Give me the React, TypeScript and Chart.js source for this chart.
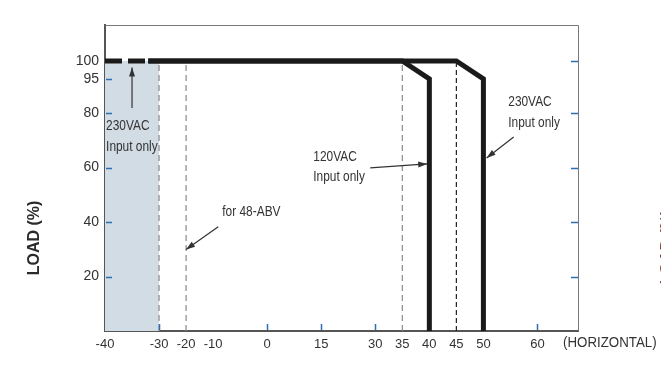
import React, { useEffect, useRef } from "react";
import { Chart, registerables } from "chart.js";

Chart.register(...registerables);

// Temperature axis is drawn with uneven spacing: each labelled temperature sits on its own slot.
const TICK_TEMPS = [-40, -30, -20, -10, 0, 15, 30, 35, 40, 45, 50, 60];
const TICK_SLOTS = [0, 2, 3, 4, 6, 8, 10, 11, 12, 13, 14, 16];
const AXIS_END_SLOT = 17.5;

// Load axis is also stretched above 80 %.
const LOAD_TICKS = [0, 20, 40, 60, 80, 95, 100];
const LOAD_SLOTS = [0, 20, 40, 60, 80, 92.5, 99.1];
const LOAD_END_SLOT = 112.3;
const LEFT_LABELS = [20, 40, 60, 80, 95, 100];
const RIGHT_LOAD_MARKS = [20, 40, 60, 80, 100];
const LEFT_LOAD_MARKS = [20, 40, 60, 80, 95];
const BOTTOM_MARK_TEMPS = [-30, 0, 15, 30, 60];

// Derating curves (temperature in °C, load in %)
const COLD_TEMPS = [-40, -32];
const COLD_LOAD = [100, 100];
const AC120_TEMPS = [-32, 35, 40, 40];
const AC120_LOAD = [100, 100, 95, 0];
const AC230_TEMPS = [-32, 45, 50, 50];
const AC230_LOAD = [100, 100, 95, 0];

// Shaded 230VAC-only band and dashed guide lines
const SHADE_TEMPS = [-40, -30];
const SHADE_LOAD = [100, 100];
const GREY_GUIDE_TEMPS = [-30, -20, 35];
const BLACK_GUIDE_TEMPS = [45];

// Callouts: text lines placed at (temp, load), and an arrow from -> to
const NOTES = [
  { lines: [["230VAC", -39.8, 75.2], ["Input only", -39.8, 67.5]], from: [-35, 82.2], to: [-35, 98.2] },
  { lines: [["120VAC", 12.8, 63.7], ["Input only", 12.8, 56.3]], from: [28.6, 59.9], to: [39.6, 61.3] },
  { lines: [["230VAC", 54.6, 84.8], ["Input only", 54.6, 76.3]], from: [55.6, 71.2], to: [50.6, 63.5] },
  { lines: [["for 48-ABV", -8.3, 43.5]], from: [-9.05, 38.3], to: [-20, 29.9] },
];

function interp(v: number, xs: number[], ys: number[]): number {
  const n = xs.length;
  let i = 1;
  while (i < n - 1 && v > xs[i]) i++;
  const a = xs[i - 1], b = xs[i];
  return ys[i - 1] + ((v - a) / (b - a)) * (ys[i] - ys[i - 1]);
}
const toSlot = (t: number) => interp(t, TICK_TEMPS, TICK_SLOTS);
const toLoadSlot = (l: number) => interp(l, LOAD_TICKS, LOAD_SLOTS);

const pts = (temps: number[], loads: number[]) =>
  temps.map((t, i) => ({ x: toSlot(t), y: toLoadSlot(loads[i]) }));

const FONT = "'Liberation Sans', Arial, sans-serif";
const TEXT = "#333333";
const TICK_BLUE = "#2f6db5";
const NARROW = 0.85;

const decorPlugin = {
  id: "decor",
  afterDatasetsDraw(chart: any) {
    const { ctx, chartArea, scales } = chart;
    const xs = scales.x, ys = scales.y;
    const px = (t: number) => xs.getPixelForValue(toSlot(t));
    const py = (l: number) => ys.getPixelForValue(toLoadSlot(l));
    ctx.save();

    // top and right frame
    ctx.strokeStyle = "#777";
    ctx.lineWidth = 1;
    ctx.beginPath();
    ctx.moveTo(chartArea.left, chartArea.top + 0.5);
    ctx.lineTo(chartArea.right + 0.5, chartArea.top + 0.5);
    ctx.lineTo(chartArea.right + 0.5, chartArea.bottom);
    ctx.stroke();

    // inside tick marks
    ctx.strokeStyle = TICK_BLUE;
    ctx.lineWidth = 1.5;
    ctx.beginPath();
    LEFT_LOAD_MARKS.forEach((v) => {
      const y = Math.round(py(v)) + 0.5;
      ctx.moveTo(chartArea.left + 1, y);
      ctx.lineTo(chartArea.left + 7, y);
    });
    RIGHT_LOAD_MARKS.forEach((v) => {
      const y = Math.round(py(v)) + 0.5;
      ctx.moveTo(chartArea.right - 7, y);
      ctx.lineTo(chartArea.right, y);
    });
    BOTTOM_MARK_TEMPS.forEach((t) => {
      const x = Math.round(px(t)) + 0.5;
      ctx.moveTo(x, chartArea.bottom - 1);
      ctx.lineTo(x, chartArea.bottom - 7);
    });
    ctx.stroke();

    // narrow text helper
    const narrowText = (s: string, x: number, y: number, font: string, squeeze = NARROW) => {
      ctx.save();
      ctx.translate(x, y);
      ctx.scale(squeeze, 1);
      ctx.font = font;
      ctx.textAlign = "left";
      ctx.textBaseline = "middle";
      ctx.fillText(s, 0, 0);
      ctx.restore();
    };

    // callouts
    ctx.fillStyle = TEXT;
    ctx.strokeStyle = "#333";
    NOTES.forEach((n) => {
      n.lines.forEach((ln: any) => narrowText(ln[0], px(ln[1]), py(ln[2]), `14px ${FONT}`));
      const x1 = px(n.from[0]), y1 = py(n.from[1]);
      const x2 = px(n.to[0]), y2 = py(n.to[1]);
      const ang = Math.atan2(y2 - y1, x2 - x1);
      ctx.lineWidth = 1.2;
      ctx.beginPath();
      ctx.moveTo(x1, y1);
      ctx.lineTo(x2, y2);
      ctx.stroke();
      const hl = 9, hw = 3;
      ctx.beginPath();
      ctx.moveTo(x2, y2);
      ctx.lineTo(x2 - hl * Math.cos(ang) + hw * Math.sin(ang), y2 - hl * Math.sin(ang) - hw * Math.cos(ang));
      ctx.lineTo(x2 - hl * Math.cos(ang) - hw * Math.sin(ang), y2 - hl * Math.sin(ang) + hw * Math.cos(ang));
      ctx.closePath();
      ctx.fill();
    });

    // unit note after the temperature labels
    narrowText("(HORIZONTAL)", chartArea.right - 15, chartArea.bottom + 12, `14px ${FONT}`, 0.95);

    // load axis title
    ctx.save();
    ctx.translate(35, 238);
    ctx.rotate(-Math.PI / 2);
    ctx.textAlign = "center";
    ctx.textBaseline = "middle";
    ctx.font = `bold 16px ${FONT}`;
    ctx.fillStyle = "#2a2a2a";
    ctx.fillText("LOAD (%)", 0, 0);
    ctx.restore();

    // neighbouring panel's title, clipped at the edge
    ctx.save();
    ctx.translate(668, 247);
    ctx.rotate(-Math.PI / 2);
    ctx.textAlign = "center";
    ctx.textBaseline = "middle";
    ctx.font = `bold 16px ${FONT}`;
    ctx.fillStyle = "#8a4a3a";
    ctx.fillText("LOAD (%)", 0, 0);
    ctx.restore();

    ctx.restore();
  },
};

export default function App() {
  const ref = useRef<HTMLCanvasElement | null>(null);

  useEffect(() => {
    if (!ref.current) return;
    const guide = (t: number, color: string, dash: number[]) => ({
      data: pts([t, t], [0, 100]),
      borderColor: color,
      borderWidth: 1.2,
      borderDash: dash,
      pointRadius: 0,
      fill: false,
      order: 2,
    });
    const thick = (data: any[], dash: number[] = []) => ({
      data,
      borderColor: "#1a1a1a",
      borderWidth: 5,
      borderDash: dash,
      borderJoinStyle: "miter",
      pointRadius: 0,
      fill: false,
      order: 0,
    });

    const chart = new Chart(ref.current, {
      type: "line",
      data: {
        datasets: [
          thick(pts(COLD_TEMPS, COLD_LOAD), [17, 6]),
          thick(pts(AC120_TEMPS, AC120_LOAD)),
          thick(pts(AC230_TEMPS, AC230_LOAD)),
          ...GREY_GUIDE_TEMPS.map((t) => guide(t, "#8a8a8a", [6, 4])),
          ...BLACK_GUIDE_TEMPS.map((t) => guide(t, "#222222", [5, 3])),
          {
            data: pts(SHADE_TEMPS, SHADE_LOAD),
            borderWidth: 0,
            borderColor: "rgba(0,0,0,0)",
            backgroundColor: "#d2dce5",
            pointRadius: 0,
            fill: "origin",
            order: 3,
          },
        ] as any,
      },
      options: {
        animation: false,
        responsive: false,
        maintainAspectRatio: false,
        layout: { padding: { left: 0, top: 25, right: 83, bottom: 0 } },
        plugins: { legend: { display: false }, tooltip: { enabled: false } },
        scales: {
          x: {
            type: "linear",
            min: 0,
            max: AXIS_END_SLOT,
            afterFit: (s: any) => { s.height = 41; },
            afterBuildTicks: (s: any) => { s.ticks = TICK_SLOTS.map((v) => ({ value: v })); },
            grid: { display: false, drawTicks: false },
            border: { display: true, color: "#555", width: 2 },
            ticks: {
              autoSkip: false,
              maxRotation: 0,
              padding: 6,
              color: TEXT,
              font: { family: FONT, size: 13 },
              callback: (v: any) => {
                const i = TICK_SLOTS.indexOf(Number(v));
                return i >= 0 ? String(TICK_TEMPS[i]) : "";
              },
            },
          },
          y: {
            type: "linear",
            min: 0,
            max: LOAD_END_SLOT,
            afterFit: (s: any) => { s.width = 105; },
            afterBuildTicks: (s: any) => {
              s.ticks = LEFT_LABELS.map((v) => ({ value: toLoadSlot(v) }));
            },
            grid: { display: false, drawTicks: false },
            border: { display: true, color: "#555", width: 2 },
            ticks: {
              padding: 6,
              color: TEXT,
              font: { family: FONT, size: 14 },
              callback: (v: any) => {
                const i = LOAD_SLOTS.indexOf(Number(v));
                return i >= 0 ? String(LOAD_TICKS[i]) : "";
              },
            },
          },
        },
      },
      plugins: [decorPlugin],
    });
    return () => chart.destroy();
  }, []);

  return (
    <div style={{ position: "fixed", left: 0, top: 0, width: 661, height: 372, background: "#fff" }}>
      <canvas ref={ref} width={661} height={372} style={{ display: "block" }} />
    </div>
  );
}
